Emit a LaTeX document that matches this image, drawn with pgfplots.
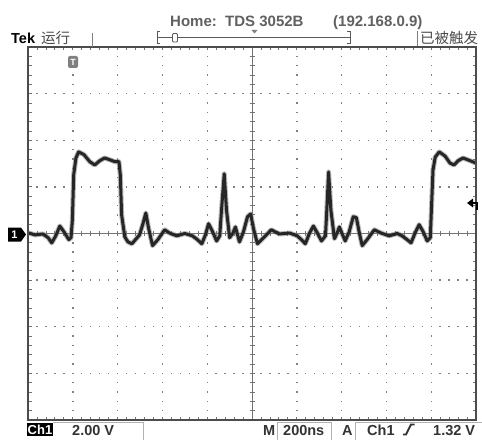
\documentclass[border=0pt]{standalone}
\usepackage{pgfplots}
\pgfplotsset{compat=1.18}
\usepackage{fontspec}
\setmainfont{Liberation Sans}
\newfontfamily\cjk{Noto Sans CJK SC}
\pgfplotstableread{
t v
-5.00 0.015
-4.84 -0.03
-4.67 -0.01
-4.55 -0.09
-4.47 -0.20
-4.38 -0.05
-4.29 0.16
-4.20 0.04
-4.09 -0.13
-4.04 -0.09
-4.01 0.29
-3.98 1.26
-3.93 1.62
-3.87 1.75
-3.75 1.69
-3.62 1.54
-3.51 1.47
-3.40 1.56
-3.29 1.62
-3.17 1.58
-3.06 1.54
-2.97 1.54
-2.94 1.26
-2.91 0.40
-2.84 -0.07
-2.77 -0.18
-2.68 -0.22
-2.60 -0.13
-2.51 -0.03
-2.44 0.19
-2.37 0.44
-2.31 0.12
-2.22 -0.26
-2.10 -0.13
-1.95 0.08
-1.84 0.01
-1.68 -0.05
-1.50 0.00
-1.33 -0.05
-1.22 -0.13
-1.12 -0.22
-1.04 -0.03
-0.97 0.21
-0.88 0.04
-0.79 -0.16
-0.72 -0.05
-0.68 0.51
-0.62 1.28
-0.57 0.51
-0.50 -0.09
-0.43 0.00
-0.37 0.14
-0.28 -0.18
-0.19 0.04
-0.10 0.36
-0.03 0.42
0.03 0.12
0.12 -0.22
0.26 -0.09
0.43 0.08
0.61 -0.01
0.84 0.01
1.01 -0.05
1.10 -0.13
1.19 -0.22
1.28 0.00
1.37 0.16
1.46 0.01
1.55 -0.16
1.64 -0.05
1.67 0.51
1.71 1.32
1.76 0.51
1.84 -0.11
1.90 0.01
1.95 0.14
2.01 0.00
2.08 -0.16
2.17 0.04
2.26 0.36
2.33 0.34
2.39 0.04
2.46 -0.26
2.57 -0.13
2.73 0.08
2.88 0.01
3.06 -0.05
3.24 0.00
3.35 -0.05
3.46 -0.13
3.55 -0.20
3.64 0.01
3.73 0.19
3.82 0.04
3.91 -0.16
3.98 -0.09
4.00 0.40
4.04 1.36
4.09 1.64
4.18 1.75
4.31 1.66
4.42 1.51
4.51 1.47
4.60 1.56
4.71 1.62
4.82 1.58
5.00 1.51
}\trace
\begin{document}
\begin{tikzpicture}[x=1pt,y=1pt]
\useasboundingbox (0,0) rectangle (482,440);
\fill[white] (0,0) rectangle (482,440);
% dotted graticule
\foreach \i in {1,2,3,4,6,7,8,9}{
  \foreach \j in {1,...,39}{
    \fill[black!50] ({28+44.8*\i-0.7},{20+9.325*\j-0.7}) rectangle ++(1.4,1.4);
  }
}
\foreach \k in {1,2,3,5,6,7}{
  \foreach \m in {1,...,49}{
    \fill[black!50] ({28+8.96*\m-0.7},{20+46.625*\k-0.7}) rectangle ++(1.4,1.4);
  }
}
% centre crosshair
\draw[black!55,line width=0.9pt] (28,206.5)--(476,206.5);
\draw[black!55,line width=0.9pt] (252,20)--(252,393);
\foreach \m in {1,...,49}{
  \draw[black!55,line width=0.8pt] ({28+8.96*\m},204)--({28+8.96*\m},209);
  \draw[black!55,line width=0.8pt] ({28+8.96*\m},20)--({28+8.96*\m},23.5);
  \draw[black!55,line width=0.8pt] ({28+8.96*\m},393)--({28+8.96*\m},389.5);
}
\foreach \j in {1,...,39}{
  \draw[black!55,line width=0.8pt] (249.5,{20+9.325*\j})--(254.5,{20+9.325*\j});
  \draw[black!55,line width=0.8pt] (28,{20+9.325*\j})--(31.5,{20+9.325*\j});
  \draw[black!55,line width=0.8pt] (476,{20+9.325*\j})--(472.5,{20+9.325*\j});
}
\begin{axis}[at={(28pt,20pt)},anchor=south west,scale only axis,
  width=448pt,height=373pt,xmin=-5,xmax=5,ymin=-4,ymax=4,
  hide axis,clip=true]
\addplot[black!50,line width=5pt,line join=round,line cap=round,opacity=0.55] table[x=t,y=v]{\trace};
\addplot[black!85,line width=3pt,line join=round,line cap=round] table[x=t,y=v]{\trace};
\end{axis}
% frame
\draw[black!70,line width=1.5pt] (28,20) rectangle (476,393);
% ground marker
\fill[black] (8,212.5)--(21,212.5)--(26,205.5)--(21,198.5)--(8,198.5)--cycle;
\node[white,font=\bfseries\fontsize{11}{11}\selectfont] at (14.5,205.5) {1};
% trigger position marker
\fill[black!50,rounded corners=2pt] (68,372) rectangle (78,384);
\node[white,font=\bfseries\fontsize{9}{9}\selectfont] at (73,378) {T};
% trigger level arrow
\fill[black] (467,237)--(473,241.5)--(473,232.5)--cycle;
\draw[black,line width=2pt] (472,237)--(477,237)--(477,230);
% header
\node[anchor=base west,inner sep=0pt,text=black!62,font=\bfseries\fontsize{15}{15}\selectfont] at (170,413.3) {Home:\ \ TDS 3052B};
\node[anchor=base west,inner sep=0pt,text=black!62,font=\bfseries\fontsize{15}{15}\selectfont] at (333,413.3) {(192.168.0.9)};
\node[anchor=base west,inner sep=0pt,text=black,font=\bfseries\fontsize{14.5}{14.5}\selectfont] at (11,396.7) {Tek};
\node[anchor=base west,inner sep=0pt,text=black!70,font=\cjk\fontsize{14.5}{14.5}\selectfont] at (41,396.5) {运行};
\draw[black!50,line width=0.8pt] (92,393)--(92,407);
\draw[black!65,line width=1pt] (160,408)--(157,408)--(157,396)--(160,396);
\draw[black!65,line width=1pt] (157,402.3)--(350,402.3);
\draw[black!65,line width=1pt] (347,408)--(350,408)--(350,396)--(347,396);
\draw[black!65,fill=white,line width=0.8pt,rounded corners=1pt] (172.5,398) rectangle (177.5,406.5);
\fill[black!50] (251.5,410)--(257.5,410)--(254.5,406.5)--cycle;
\draw[black!50,line width=0.8pt] (417,394)--(417,409);
\node[anchor=base west,inner sep=0pt,text=black!70,font=\cjk\fontsize{14.5}{14.5}\selectfont] at (420,396.5) {已被触发};
% status bar
\fill[black] (27,4) rectangle (53,17);
\node[anchor=base,inner sep=0pt,text=white,font=\bfseries\fontsize{13}{13}\selectfont] at (40,5.5) {Ch1};
\draw[black!30,line width=0.8pt] (53,17.5)--(143,17.5)--(143,0);
\node[anchor=base west,inner sep=0pt,text=black!80,font=\bfseries\fontsize{14.5}{14.5}\selectfont] at (72,5) {2.00 V};
\node[anchor=base west,inner sep=0pt,text=black!80,font=\bfseries\fontsize{14.5}{14.5}\selectfont] at (263,5) {M};
\draw[black!30,line width=0.8pt] (277,0)--(277,17.5)--(331,17.5)--(331,0);
\node[anchor=base west,inner sep=0pt,text=black!80,font=\bfseries\fontsize{14.5}{14.5}\selectfont] at (283,5) {200ns};
\node[anchor=base west,inner sep=0pt,text=black!80,font=\bfseries\fontsize{14.5}{14.5}\selectfont] at (342,5) {A};
\draw[black!30,line width=0.8pt] (355,0)--(355,17.5)--(482,17.5);
\node[anchor=base west,inner sep=0pt,text=black!80,font=\bfseries\fontsize{14.5}{14.5}\selectfont] at (367,5) {Ch1};
\draw[black!80,line width=1.8pt] (403,5.5)--(406,5.5)--(411,15.5)--(414.5,15.5);
\node[anchor=base west,inner sep=0pt,text=black!80,font=\bfseries\fontsize{14.5}{14.5}\selectfont] at (433,5) {1.32 V};
\end{tikzpicture}
\end{document}
